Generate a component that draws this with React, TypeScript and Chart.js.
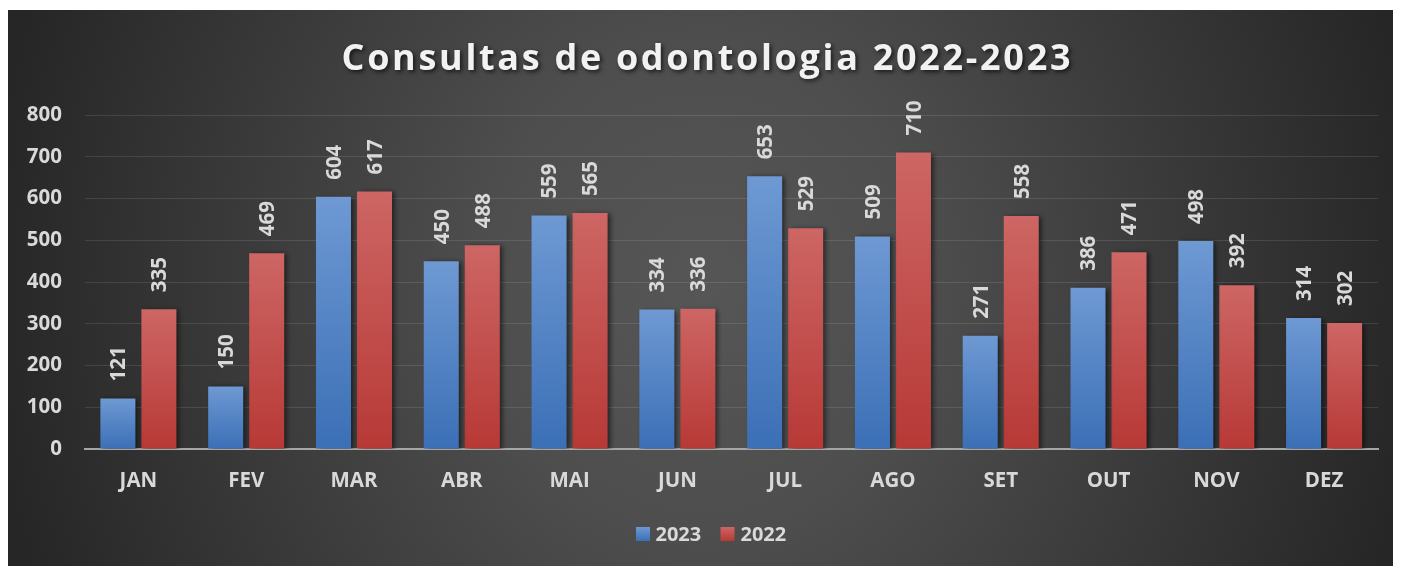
import React, { useEffect, useRef } from "react";
import { Chart, registerables } from "chart.js";

Chart.register(...registerables);

const TITLE = "Consultas de odontologia 2022-2023";
const MONTHS = ["JAN", "FEV", "MAR", "ABR", "MAI", "JUN", "JUL", "AGO", "SET", "OUT", "NOV", "DEZ"];
const SERIES_2023 = [121, 150, 604, 450, 559, 334, 653, 509, 271, 386, 498, 314];
const SERIES_2022 = [335, 469, 617, 488, 565, 336, 529, 710, 558, 471, 392, 302];
const Y_MIN = 0;
const Y_MAX = 800;
const Y_STEP = 100;

const FONT = '"Open Sans", "Noto Sans", sans-serif';
const TEXT = "#d9d9d9";
const BLUE = ["#6e99d3", "#3b6fb6"];
const RED = ["#cd6664", "#b73936"];

const W = 1393;
const H = 556;

function barFill(colors: string[]) {
  return (c: any) => {
    const chart = c.chart;
    const area = chart.chartArea;
    if (!area || c.type !== "data") return colors[1];
    const v = c.raw as number;
    const y = chart.scales.y;
    const top = y.getPixelForValue(v);
    const bottom = y.getPixelForValue(0);
    if (!isFinite(top) || !isFinite(bottom) || top === bottom) return colors[1];
    const g = chart.ctx.createLinearGradient(0, top, 0, bottom);
    g.addColorStop(0, colors[0]);
    g.addColorStop(1, colors[1]);
    return g;
  };
}

const decorPlugin = {
  id: "decor",
  beforeDraw(chart: any) {
    const ctx = chart.ctx as CanvasRenderingContext2D;
    ctx.save();
    const cx = W / 2;
    const cy = H / 2;
    const rx = 720;
    const ry = 800;
    ctx.translate(cx, cy);
    ctx.scale(1, ry / rx);
    const g = ctx.createRadialGradient(0, 0, 0, 0, 0, rx);
    g.addColorStop(0, "#565656");
    g.addColorStop(0.3, "#4e4e4e");
    g.addColorStop(1, "#262626");
    ctx.fillStyle = g;
    ctx.fillRect(-cx - 10, -cy * (rx / ry) - 10, W + 20, H * (rx / ry) + 20);
    ctx.restore();

    // Title
    ctx.save();
    ctx.font = `bold 36px ${FONT}`;
    ctx.textBaseline = "alphabetic";
    ctx.textAlign = "left";
    const chars = TITLE.split("");
    const widths = chars.map((ch) => ctx.measureText(ch).width);
    const sum = widths.reduce((a, b) => a + b, 0);
    const target = 729;
    const ls = (target - sum) / (chars.length - 1);
    let x = 333.5;
    ctx.shadowColor = "rgba(0,0,0,0.65)";
    ctx.shadowBlur = 4;
    ctx.shadowOffsetX = 2;
    ctx.shadowOffsetY = 2;
    ctx.fillStyle = "#f2f2f2";
    chars.forEach((ch, i) => {
      ctx.fillText(ch, x, 59.5);
      x += widths[i] + ls;
    });
    ctx.restore();

    // Legend
    ctx.save();
    const legend = [
      { label: "2023", colors: BLUE, sx: 628, tx: 647.5 },
      { label: "2022", colors: RED, sx: 712.5, tx: 732.5 },
    ];
    ctx.font = `bold 20px ${FONT}`;
    ctx.textBaseline = "alphabetic";
    ctx.fillStyle = TEXT;
    legend.forEach((l) => {
      const lg = ctx.createLinearGradient(0, 517, 0, 531);
      lg.addColorStop(0, l.colors[0]);
      lg.addColorStop(1, l.colors[1]);
      ctx.fillStyle = lg;
      ctx.fillRect(l.sx, 517, 14, 14);
      ctx.fillStyle = TEXT;
      ctx.fillText(l.label, l.tx, 531);
    });
    ctx.restore();
  },
  beforeDatasetsDraw(chart: any) {
    const ctx = chart.ctx as CanvasRenderingContext2D;
    ctx.save();
    ctx.shadowColor = "rgba(0,0,0,0.55)";
    ctx.shadowBlur = 5;
    ctx.shadowOffsetX = 3;
    ctx.shadowOffsetY = 1;
  },
  afterDatasetsDraw(chart: any) {
    const ctx = chart.ctx as CanvasRenderingContext2D;
    ctx.restore();
    // data labels
    ctx.save();
    ctx.font = `bold 20.5px ${FONT}`;
    ctx.fillStyle = TEXT;
    ctx.textAlign = "left";
    ctx.textBaseline = "alphabetic";
    chart.data.datasets.forEach((ds: any, di: number) => {
      const meta = chart.getDatasetMeta(di);
      meta.data.forEach((el: any, i: number) => {
        const v = ds.data[i];
        ctx.save();
        ctx.translate(el.x, el.y - 17);
        ctx.rotate(-Math.PI / 2);
        ctx.fillText(String(v), 0, 7.4);
        ctx.restore();
      });
    });
    ctx.restore();
  },
  afterDraw(chart: any) {
    const ctx = chart.ctx as CanvasRenderingContext2D;
    const xs = chart.scales.x;
    ctx.save();
    ctx.font = `bold 20.5px ${FONT}`;
    ctx.fillStyle = TEXT;
    ctx.textAlign = "center";
    ctx.textBaseline = "alphabetic";
    MONTHS.forEach((m, i) => {
      ctx.fillText(m, xs.getPixelForValue(i), 476.7);
    });
    ctx.restore();
  },
};

export default function App() {
  const ref = useRef<HTMLCanvasElement | null>(null);
  useEffect(() => {
    document.documentElement.style.overflow = "hidden";
    document.body.style.overflow = "hidden";
    let chart: Chart | null = null;
    let cancelled = false;
    const make = () => {
      if (cancelled || !ref.current) return;
      chart = new Chart(ref.current, {
        type: "bar",
        data: {
          labels: MONTHS,
          datasets: [
            {
              label: "2023",
              data: SERIES_2023,
              backgroundColor: barFill(BLUE) as any,
              borderWidth: 0,
              categoryPercentage: 0.761,
              barPercentage: 0.854,
            },
            {
              label: "2022",
              data: SERIES_2022,
              backgroundColor: barFill(RED) as any,
              borderWidth: 0,
              categoryPercentage: 0.761,
              barPercentage: 0.854,
            },
          ],
        },
        options: {
          responsive: false,
          animation: false,
          devicePixelRatio: 1,
          layout: { padding: { top: 105, right: 23, bottom: 0, left: 0 } },
          plugins: {
            legend: { display: false },
            title: { display: false },
            tooltip: { enabled: false },
          },
          scales: {
            x: {
              z: 1,
              grid: { display: false, drawTicks: false },
              border: { display: true, color: "#a6a6a6", width: 2 },
              ticks: { display: false },
              afterFit: (s: any) => {
                s.height = 117;
              },
            },
            y: {
              min: Y_MIN,
              max: Y_MAX,
              grid: { color: "rgba(255,255,255,0.11)", lineWidth: 1, drawTicks: false },
              border: { display: false },
              ticks: {
                stepSize: Y_STEP,
                padding: 22.5,
                color: TEXT,
                font: { family: FONT, size: 20.5, weight: "bold" },
              },
              afterFit: (s: any) => {
                s.width = 76.5;
              },
            },
          },
        },
        plugins: [decorPlugin],
      });
    };
    const fontsAny = (document as any).fonts;
    if (fontsAny && fontsAny.load) {
      Promise.all([
        fontsAny.load(`bold 20px ${FONT}`),
        fontsAny.load(`bold 36px ${FONT}`),
      ])
        .catch(() => {})
        .then(make);
    } else {
      make();
    }
    return () => {
      cancelled = true;
      if (chart) chart.destroy();
    };
  }, []);
  return (
    <div style={{ marginTop: 2, width: W, height: H }}>
      <canvas ref={ref} width={W} height={H} style={{ display: "block", width: W, height: H }} />
    </div>
  );
}
